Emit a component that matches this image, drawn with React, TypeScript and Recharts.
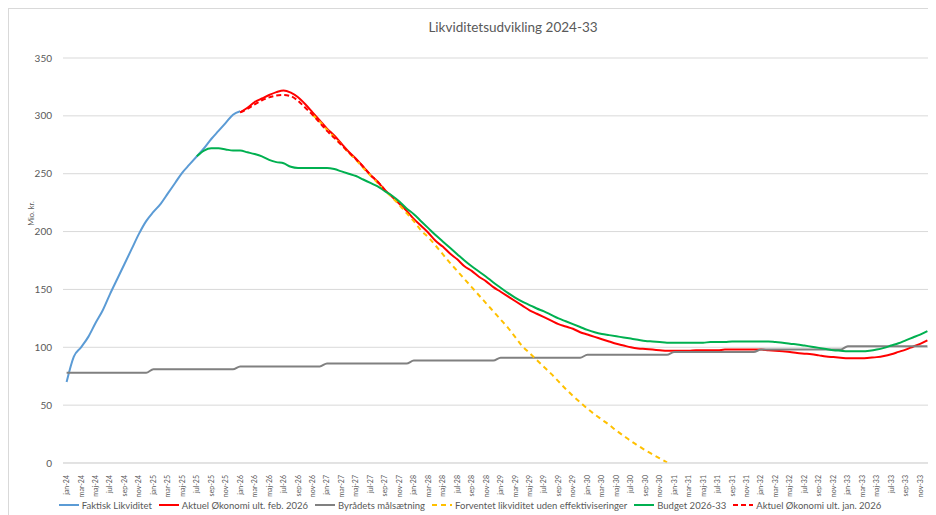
import React from 'react';
import { LineChart, Line, XAxis, YAxis, CartesianGrid, Legend } from 'recharts';

const maaneder = ['jan', 'feb', 'mar', 'apr', 'maj', 'jun', 'jul', 'aug', 'sep', 'okt', 'nov', 'dec'];
const aar = ['24', '25', '26', '27', '28', '29', '30', '31', '32', '33'];
const yTicks = [0, 50, 100, 150, 200, 250, 300, 350];

// Faktisk likviditet, jan-24 .. jan-26
const faktisk = [
  70, 92, 100, 109, 121, 132, 146, 159, 172, 185, 198, 209, 217, 224, 233, 242, 251, 258, 265, 272,
  280, 287, 294, 301, 304,
];

// Aktuel økonomi ult. feb. 2026, jan-26 .. dec-33
const aktuelFeb = [
  303, 307, 312, 315, 318, 320.5, 322, 320, 316, 310,
  303, 296, 289, 283, 276, 269, 263, 256, 249, 243,
  236, 230, 224, 218, 211, 205, 199, 192, 187, 181,
  176, 170, 166, 161, 157, 152, 148, 144, 140, 136,
  132, 129, 126, 123, 120, 118, 116, 113, 111, 109,
  107, 105, 103, 101.5, 100, 99, 98.5, 98, 97.5, 97,
  97, 97, 97, 97.5, 97.5, 97.5, 97.5, 98, 98, 98,
  98, 98, 98, 97.5, 97, 96.5, 96, 95, 94.5, 94,
  93, 92, 91.5, 91, 90.5, 90.5, 90.5, 91, 91.5, 92.5,
  94, 96, 98, 100.5, 103, 106,
];

// Byrådets målsætning, et niveau pr. år
const maalsaetning = [78, 81, 83.5, 86, 88.5, 91, 93.5, 96, 98, 101];

// Forventet likviditet uden effektiviseringer, nov-26 .. dec-30
const forventet = [
  301, 295, 288, 281.5, 275, 268, 262, 255, 248.5, 242,
  235.5, 229.5, 223, 216, 209, 201, 195, 188, 180.5, 173,
  166, 159, 152, 145, 138, 131, 124, 117, 109, 101,
  95, 89, 83, 77, 70.5, 64, 58, 52.5, 47, 42,
  37.5, 33, 28, 23.5, 19, 15, 11, 7.5, 4, 0.5,
];

// Budget 2026-33, jul-25 .. dec-33
const budget = [
  265, 270, 272, 272, 271, 270, 270, 268.5, 267, 265,
  262, 260, 259, 256, 255, 255, 255, 255, 255, 254,
  252, 250, 248, 245, 242, 239, 235, 231, 226, 220,
  215, 209, 203, 197, 191.5, 186, 180.5, 175, 170, 165.5,
  161, 156, 151.5, 147, 143, 139.5, 136.5, 133.5, 131, 128,
  125, 122.5, 120, 117.5, 115, 113, 111.5, 110.5, 109.5, 108.5,
  107.5, 106.5, 105.5, 105, 104.5, 104, 104, 104, 104, 104,
  104, 104.5, 104.5, 104.5, 105, 105, 105, 105, 105, 105,
  104.5, 104, 103, 102.5, 101.5, 100.5, 99.5, 98.5, 97.5, 97,
  96.5, 96.5, 96.5, 97, 98, 99.5, 101.5, 103.5, 106, 108.5,
  111, 114,
];

// Aktuel økonomi ult. jan. 2026, jan-26 .. sep-27
const aktuelJan = [
  303, 306, 310, 313.5, 316, 317.5, 318, 317, 313, 307,
  301, 294, 287, 281, 275, 268.5, 262.5, 256, 249, 243, 236,
];

const start = { faktisk: 0, aktuelFeb: 24, forventet: 34, budget: 18, aktuelJan: 24 };

const categories = aar.flatMap((a) => maaneder.map((m) => `${m}-${a}`));

const data = categories.map((name, i) => ({
  name,
  faktisk: faktisk[i - start.faktisk] ?? null,
  aktuelFeb: aktuelFeb[i - start.aktuelFeb] ?? null,
  maal: maalsaetning[Math.floor(i / 12)],
  forventet: forventet[i - start.forventet] ?? null,
  budget: budget[i - start.budget] ?? null,
  aktuelJan: aktuelJan[i - start.aktuelJan] ?? null,
}));

const series = [
  { key: 'faktisk', name: 'Faktisk Likviditet', color: '#5B9BD5', dash: undefined },
  { key: 'aktuelFeb', name: 'Aktuel Økonomi ult. feb. 2026', color: '#FF0000', dash: undefined },
  { key: 'maal', name: 'Byrådets målsætning', color: '#808080', dash: undefined },
  { key: 'forventet', name: 'Forventet likviditet uden effektiviseringer', color: '#FFC000', dash: '5 4' },
  { key: 'budget', name: 'Budget 2026-33', color: '#00B050', dash: undefined },
  { key: 'aktuelJan', name: 'Aktuel Økonomi ult. jan. 2026', color: '#FF0000', dash: '5 3' },
];

const textColor = '#595959';
const font = 'Lato, "Open Sans", sans-serif';

function MonthTick(props: any) {
  const { x, y, payload } = props;
  return (
    <text
      x={x}
      y={y + 4}
      transform={`rotate(-90, ${x}, ${y + 4})`}
      textAnchor="end"
      dy="0.35em"
      fontSize={7}
      fill={textColor}
      fontFamily={font}
    >
      {payload.value}
    </text>
  );
}

function LegendBox() {
  return (
    <div
      style={{
        height: 20,
        display: 'flex',
        justifyContent: 'center',
        alignItems: 'center',
        fontFamily: font,
        fontSize: 9.5,
        color: textColor,
        gap: 7,
      }}
    >
      {series.map((s) => (
        <div key={s.key} style={{ display: 'flex', alignItems: 'center' }}>
          <svg width={20} height={6} style={{ marginRight: 3 }}>
            <line x1={0} y1={3} x2={20} y2={3} stroke={s.color} strokeWidth={2} strokeDasharray={s.dash} />
          </svg>
          <span>{s.name}</span>
        </div>
      ))}
    </div>
  );
}

export default function App() {
  return (
    <div
      style={{
        position: 'relative',
        width: 927,
        height: 506,
        borderLeft: '1px solid #d9d9d9',
        borderTop: '1px solid #d9d9d9',
        background: '#fff',
        fontFamily: font,
      }}
    >
      <div
        style={{
          position: 'absolute',
          top: 10,
          left: 0,
          width: 1008,
          textAlign: 'center',
          fontSize: 13.5,
          color: textColor,
        }}
      >
        Likviditetsudvikling 2024-33
      </div>
      <div
        style={{
          position: 'absolute',
          left: 2,
          top: 200,
          width: 40,
          textAlign: 'center',
          transform: 'rotate(-90deg)',
          fontSize: 7.5,
          color: textColor,
        }}
      >
        Mio. kr.
      </div>
      <LineChart width={927} height={506} data={data} margin={{ top: 49, right: 5, bottom: 0, left: 0 }}>
        <CartesianGrid vertical={false} stroke="#d9d9d9" />
        <XAxis
          dataKey="name"
          interval={1}
          tick={<MonthTick />}
          tickLine={false}
          axisLine={{ stroke: '#d9d9d9' }}
          height={32}
          padding={{ left: 3.6, right: 3.6 }}
        />
        <YAxis
          domain={[0, 350]}
          ticks={yTicks}
          width={54}
          axisLine={false}
          tickLine={false}
          tickMargin={5}
          tick={{ fontSize: 10, fill: textColor, fontFamily: font }}
        />
        <Legend verticalAlign="bottom" height={20} content={<LegendBox />} />
        {series.map((s) => (
          <Line
            key={s.key}
            type="monotone"
            dataKey={s.key}
            name={s.name}
            stroke={s.color}
            strokeWidth={2}
            strokeDasharray={s.dash}
            dot={false}
            isAnimationActive={false}
            connectNulls={false}
          />
        ))}
      </LineChart>
    </div>
  );
}
